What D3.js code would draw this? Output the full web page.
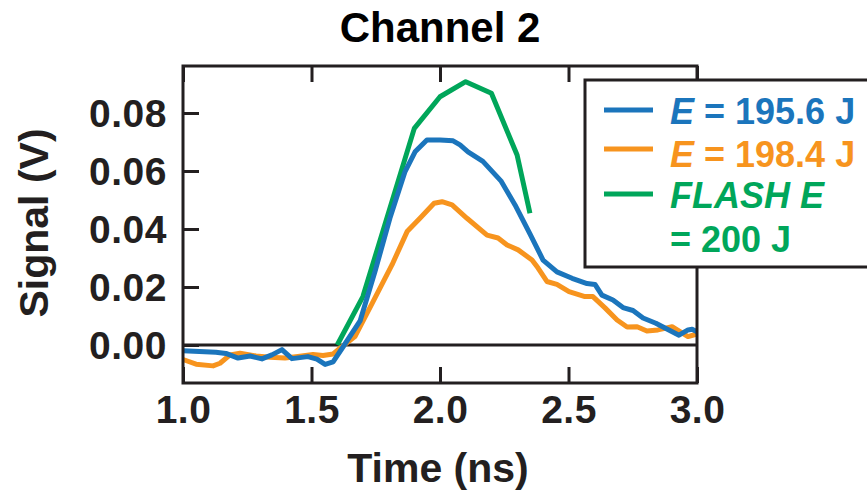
<!DOCTYPE html>
<html>
<head>
<meta charset="utf-8">
<script src="https://cdn.jsdelivr.net/npm/d3@7"></script>
<style>
  html, body { margin: 0; padding: 0; background: #fff; }
  svg { display: block; font-family: "Liberation Sans", Arial, Helvetica, sans-serif; }
</style>
</head>
<body>
<svg id="chart" width="867" height="496"></svg>
<script>
// Channel 2 signal traces: time in ns, signal in volts
const blueTime = [1.000,1.128,1.167,1.214,1.261,1.307,1.346,1.385,1.424,1.486,1.521,1.553,1.584,1.623,1.689,1.747,1.805,1.864,1.903,1.949,2.000,2.051,2.078,2.109,2.167,2.237,2.292,2.350,2.401,2.455,2.514,2.572,2.603,2.630,2.673,2.712,2.751,2.790,2.840,2.883,2.930,2.965,2.981,3.000];
const blueSignal = [-0.0020,-0.0025,-0.0029,-0.0045,-0.0038,-0.0048,-0.0034,-0.0016,-0.0047,-0.0040,-0.0049,-0.0067,-0.0058,-0.0006,0.0083,0.0253,0.0437,0.0598,0.0666,0.0707,0.0707,0.0704,0.0690,0.0666,0.0633,0.0566,0.0483,0.0383,0.0293,0.0252,0.0230,0.0212,0.0209,0.0172,0.0155,0.0129,0.0119,0.0093,0.0075,0.0055,0.0034,0.0052,0.0054,0.0046];

const orangeTime = [1.000,1.051,1.117,1.144,1.183,1.222,1.284,1.339,1.397,1.447,1.506,1.545,1.584,1.611,1.669,1.739,1.813,1.872,1.922,1.977,2.008,2.047,2.105,2.183,2.226,2.261,2.304,2.358,2.381,2.416,2.455,2.502,2.564,2.595,2.642,2.689,2.728,2.767,2.805,2.848,2.903,2.934,2.965,3.000];
const orangeSignal = [-0.0050,-0.0066,-0.0072,-0.0063,-0.0034,-0.0028,-0.0038,-0.0042,-0.0045,-0.0040,-0.0033,-0.0036,-0.0031,-0.0011,0.0029,0.0149,0.0276,0.0391,0.0437,0.0489,0.0494,0.0483,0.0437,0.0379,0.0369,0.0345,0.0328,0.0293,0.0266,0.0219,0.0209,0.0184,0.0167,0.0167,0.0128,0.0086,0.0062,0.0063,0.0048,0.0052,0.0063,0.0046,0.0029,0.0038];

const flashTime = [1.60,1.70,1.90,2.00,2.10,2.20,2.30,2.35];
const flashSignal = [0.0000,0.0167,0.0747,0.0856,0.0908,0.0868,0.0655,0.0454];

const xTicks = [1.0,1.5,2.0,2.5,3.0];
const yTicks = [0.00,0.02,0.04,0.06,0.08];

const seriesNames = ["blue","orange","flash"];
const seriesColors = ["#1b75bc","#f7941e","#00a65a"];

const ink = "#231f20";
const svg = d3.select("#chart");

const plot = { left: 183, right: 697, top: 66, bottom: 383 };
const x = d3.scaleLinear().domain([1.0, 3.0]).range([plot.left, plot.right]);
const y = d3.scaleLinear().domain([-0.0131, 0.0962]).range([plot.bottom, plot.top]);

// zero reference line
svg.append("line")
  .attr("x1", plot.left).attr("x2", plot.right)
  .attr("y1", y(0)).attr("y2", y(0))
  .attr("stroke", ink).attr("stroke-width", 3);

// traces
const line = d3.line().x(d => x(d[0])).y(d => y(d[1]));
const traces = [
  d3.zip(blueTime, blueSignal),
  d3.zip(orangeTime, orangeSignal),
  d3.zip(flashTime, flashSignal)
];
// draw order: flash underneath, then orange, then blue on top
[2, 1, 0].forEach(i => {
  svg.append("path")
    .datum(traces[i])
    .attr("class", "trace-" + seriesNames[i])
    .attr("fill", "none")
    .attr("stroke", seriesColors[i])
    .attr("stroke-width", 5)
    .attr("stroke-linejoin", "round")
    .attr("stroke-linecap", "butt")
    .attr("d", line);
});

// axes with inward ticks
const tickLen = 16;
function styleAxis(g) {
  g.select(".domain").remove();
  g.selectAll(".tick line").attr("stroke", ink).attr("stroke-width", 3);
  g.selectAll(".tick text")
    .attr("fill", ink)
    .style("font-size", "39px")
    .style("font-weight", "bold")
    .style("letter-spacing", "0.5px");
}

svg.append("g")
  .attr("transform", `translate(0,${plot.bottom})`)
  .call(d3.axisBottom(x).tickValues(xTicks).tickFormat(d3.format(".1f"))
    .tickSizeInner(-tickLen).tickSizeOuter(0).tickPadding(28))
  .call(styleAxis)
  .call(g => g.selectAll(".tick text").attr("dy", null).attr("y", 40));

svg.append("g")
  .attr("transform", `translate(0,${plot.top})`)
  .call(d3.axisTop(x).tickValues(xTicks).tickFormat("")
    .tickSizeInner(-tickLen).tickSizeOuter(0))
  .call(styleAxis);

svg.append("g")
  .attr("transform", `translate(${plot.left},0)`)
  .call(d3.axisLeft(y).tickValues(yTicks).tickFormat(d3.format(".2f"))
    .tickSizeInner(-tickLen).tickSizeOuter(0).tickPadding(16))
  .call(styleAxis)
  .call(g => g.selectAll(".tick text").attr("dy", "0.35em"));

// frame
svg.append("rect")
  .attr("x", plot.left).attr("y", plot.top)
  .attr("width", plot.right - plot.left).attr("height", plot.bottom - plot.top)
  .attr("fill", "none").attr("stroke", ink).attr("stroke-width", 3);

// title and axis titles
svg.append("text")
  .attr("x", 440).attr("y", 42)
  .attr("text-anchor", "middle")
  .attr("fill", "#000")
  .style("font-size", "42px").style("font-weight", "bold")
  .text("Channel 2");

svg.append("text")
  .attr("x", 438).attr("y", 482)
  .attr("text-anchor", "middle")
  .attr("fill", ink)
  .style("font-size", "41px").style("font-weight", "bold")
  .text("Time (ns)");

svg.append("text")
  .attr("transform", "translate(48,223) rotate(-90)")
  .attr("text-anchor", "middle")
  .attr("fill", ink)
  .style("font-size", "41px").style("font-weight", "bold")
  .text("Signal (V)");

// legend
const legend = svg.append("g");
legend.append("rect")
  .attr("x", 585).attr("y", 80)
  .attr("width", 300).attr("height", 187)
  .attr("fill", "#fff").attr("stroke", ink).attr("stroke-width", 3);

const legendRows = [
  { color: seriesColors[0], lineY: 110, lines: [{ y: 124, parts: [["E", true], [" = 195.6 J", false]] }] },
  { color: seriesColors[1], lineY: 149, lines: [{ y: 167, parts: [["E", true], [" = 198.4 J", false]] }] },
  { color: seriesColors[2], lineY: 194, lines: [
      { y: 208, parts: [["FLASH E", true]] },
      { y: 252, parts: [["= 200 J", false]] }
  ] }
];

legendRows.forEach(row => {
  legend.append("line")
    .attr("x1", 604).attr("x2", 653)
    .attr("y1", row.lineY).attr("y2", row.lineY)
    .attr("stroke", row.color).attr("stroke-width", 5);
  row.lines.forEach(l => {
    const t = legend.append("text")
      .attr("x", 670).attr("y", l.y)
      .attr("fill", row.color)
      .style("font-size", "36px").style("font-weight", "bold");
    l.parts.forEach(([s, it]) => {
      t.append("tspan").style("font-style", it ? "italic" : "normal").text(s);
    });
  });
});
</script>
</body>
</html>
